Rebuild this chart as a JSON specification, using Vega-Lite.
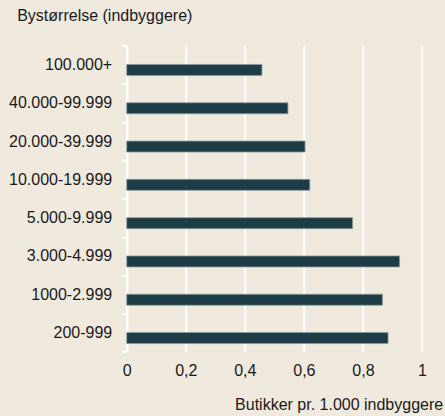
{
  "$schema": "https://vega.github.io/schema/vega-lite/v6.json",
  "autosize": "none",
  "width": 295.3,
  "height": 306.4,
  "padding": {"left": 126.7, "top": 45.3, "right": 23, "bottom": 64.3},
  "background": "#efe9de",
  "config": {
    "view": {"stroke": null},
    "font": "Arial, Helvetica, sans-serif",
    "axis": {"labelFont": "Arial, Helvetica, sans-serif", "titleFont": "Arial, Helvetica, sans-serif"}
  },
  "data": {
    "values": [
      {"group": "100.000+", "value": 0.458},
      {"group": "40.000-99.999", "value": 0.546},
      {"group": "20.000-39.999", "value": 0.604},
      {"group": "10.000-19.999", "value": 0.62},
      {"group": "5.000-9.999", "value": 0.765},
      {"group": "3.000-4.999", "value": 0.924},
      {"group": "1000-2.999", "value": 0.866},
      {"group": "200-999", "value": 0.885}
    ]
  },
  "mark": {"type": "bar", "height": 11, "yOffset": 5.5, "color": "#1e3c46", "stroke": "#8c9c9c", "strokeWidth": 0.8},
  "encoding": {
    "y": {
      "field": "group",
      "type": "nominal",
      "sort": null,
      "scale": {"paddingInner": 0, "paddingOuter": 0},
      "axis": {
        "title": "Bystørrelse (indbyggere)",
        "titleAngle": 0,
        "titleAlign": "left",
        "titleBaseline": "alphabetic",
        "titleX": -110,
        "titleY": -24.6,
        "titleFontSize": 16,
        "titleFontWeight": "normal",
        "titleColor": "#1a1a1a",
        "labelFontSize": 16,
        "labelColor": "#1a1a1a",
        "labelPadding": 10,
        "tickBand": "extent",
        "tickSize": 5,
        "tickColor": "#ffffff",
        "tickWidth": 2,
        "domainColor": "#ffffff",
        "domainWidth": 2,
        "grid": false
      }
    },
    "x": {
      "field": "value",
      "type": "quantitative",
      "scale": {"domain": [0, 1], "nice": false},
      "axis": {
        "title": "Butikker pr. 1.000 indbyggere",
        "titleAlign": "right",
        "titleBaseline": "alphabetic",
        "titleX": 316,
        "titleY": 57.8,
        "titleFontSize": 16,
        "titleFontWeight": "normal",
        "titleColor": "#1a1a1a",
        "values": [0, 0.2, 0.4, 0.6, 0.8, 1],
        "labelExpr": "replace(format(datum.value, '~g'), '.', ',')",
        "labelFontSize": 16,
        "labelColor": "#1a1a1a",
        "labelPadding": 11,
        "labelFlush": false,
        "ticks": false,
        "domain": false,
        "grid": true,
        "gridColor": "#ffffff",
        "gridWidth": 2,
        "gridOpacity": 1
      }
    }
  }
}
